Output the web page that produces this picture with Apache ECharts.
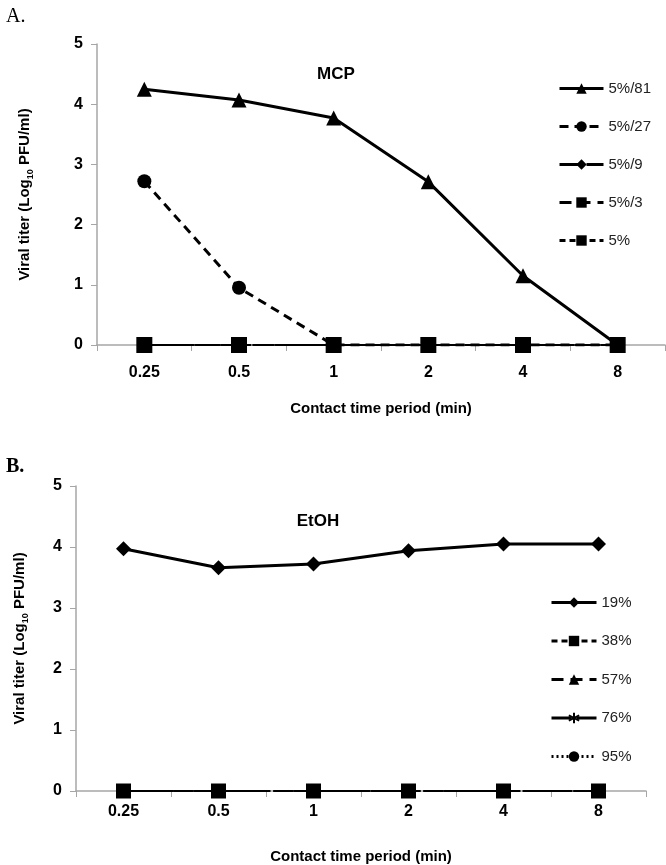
<!DOCTYPE html>
<html><head><meta charset="utf-8">
<script src="https://cdn.jsdelivr.net/npm/echarts@6/dist/echarts.min.js"></script>
<style>html,body{margin:0;padding:0;background:#fff}#c{width:666px;height:865px}</style>
</head><body><div id="c"></div>
<script>
const categories = ['0.25','0.5','1','2','4','8'];
// Panel A: MCP
const mcp_5_81 = [4.25, 4.07, 3.77, 2.71, 1.15, 0];
const mcp_5_27 = [2.72, 0.95, 0, 0, 0, 0];
const mcp_5_9  = [0, 0, 0, 0, 0, 0];
const mcp_5_3  = [0, 0, 0, 0, 0, 0];
const mcp_5    = [0, 0, 0, 0, 0, 0];
// Panel B: EtOH
const etoh_19 = [3.97, 3.66, 3.72, 3.94, 4.05, 4.05];
const etoh_38 = [0, 0, 0, 0, 0, 0];
const etoh_57 = [0, 0, 0, 0, 0, 0];
const etoh_76 = [0, 0, 0, 0, 0, 0];
const etoh_95 = [0, 0, 0, 0, 0, 0];
const yTicks = [0, 1, 2, 3, 4, 5];

const ASTER = 'path://M0,-10L0,10M-8.66,-5L8.66,5M-8.66,5L8.66,-5';
const axisGrey = '#a6a6a6';
const tickFont = {color:'#000', fontWeight:'bold', fontSize:16, fontFamily:'Liberation Sans, Arial'};

function xAxis(gi, margin, gap){
  return {type:'category', gridIndex:gi, data:categories, boundaryGap:true,
    axisLine:{lineStyle:{color:axisGrey, width:1.5}},
    axisTick:{show:true, inside:false, length:6, lineStyle:{color:axisGrey}},
    axisLabel:Object.assign({margin:margin}, tickFont),
    name:'Contact time period (min)', nameLocation:'middle', nameGap:gap,
    nameTextStyle:{color:'#000', fontWeight:'bold', fontSize:15, fontFamily:'Liberation Sans, Arial'},
    splitLine:{show:false}};
}
function yAxis(gi, gap){
  return {type:'value', gridIndex:gi, min:yTicks[0], max:yTicks[yTicks.length-1], interval:1,
    axisLine:{show:true, lineStyle:{color:axisGrey, width:1.5}},
    axisTick:{show:true, inside:false, length:6, lineStyle:{color:axisGrey}},
    axisLabel:Object.assign({margin:14}, tickFont),
    splitLine:{show:false},
    name:'{a|Viral titer (Log}{s|10}{a| PFU/ml)}', nameLocation:'middle', nameGap:gap, nameRotate:90,
    nameTextStyle:{rich:{
      a:{color:'#000', fontWeight:'bold', fontSize:15, fontFamily:'Liberation Sans, Arial', lineHeight:20},
      s:{color:'#000', fontWeight:'bold', fontSize:9, fontFamily:'Liberation Sans, Arial', lineHeight:20, verticalAlign:'bottom', padding:[8,0,0,0]}
    }}};
}
function line(name, data, gi, symbol, size, type, width, z){
  return {name:name, type:'line', xAxisIndex:gi, yAxisIndex:gi, data:data,
    symbol:symbol, symbolSize:size, showSymbol:true, z:z||2,
    itemStyle:{color:'#000'},
    lineStyle:{color:'#000', width:width, type:type}, animation:false};
}
const legendText = {fontFamily:'Liberation Sans, Arial', fontSize:15, color:'#222'};

const chart = echarts.init(document.getElementById('c'), null, {renderer:'canvas'});
chart.setOption({
  animation:false,
  backgroundColor:'#fff',
  title:[
    {text:'A.', left:1, top:2, textStyle:{fontFamily:'Liberation Serif, Times New Roman', fontSize:20, fontWeight:'normal', color:'#000'}},
    {text:'B.', left:1, top:452, textStyle:{fontFamily:'Liberation Serif, Times New Roman', fontSize:20, fontWeight:'bold', color:'#000'}},
    {text:'MCP', left:331, top:61, textAlign:'center', textStyle:{fontFamily:'Liberation Sans, Arial', fontSize:17, fontWeight:'bold', color:'#000'}},
    {text:'EtOH', left:313, top:508, textAlign:'center', textStyle:{fontFamily:'Liberation Sans, Arial', fontSize:17, fontWeight:'bold', color:'#000'}}
  ],
  legend:[
    {orient:'vertical', left:553, top:76, itemWidth:44, itemHeight:13, itemGap:23,
     lineStyle:{width:3},
     data:['5%/81','5%/27','5%/9','5%/3','5%'], textStyle:legendText},
    {orient:'vertical', left:545, top:590, itemWidth:45, itemHeight:13, itemGap:23.5,
     lineStyle:{width:3},
     data:['19%','38%','57%','76%','95%'], textStyle:legendText}
  ],
  grid:[
    {left:97, right:1, top:44, bottom:520},
    {left:76, right:20, top:486, bottom:74}
  ],
  xAxis:[xAxis(0, 20, 56), xAxis(1, 13, 58)],
  yAxis:[yAxis(0, 62), yAxis(1, 46)],
  series:[
    line('5%/81', mcp_5_81, 0, 'triangle', 15, 'solid', 3, 5),
    line('5%/27', mcp_5_27, 0, 'circle', 14, [9,6], 3, 4),
    line('5%/9', mcp_5_9, 0, 'diamond', 13, [22,5], 2, 3),
    line('5%/3', mcp_5_3, 0, 'rect', 14, [12,7], 2, 3),
    line('5%', mcp_5, 0, 'rect', 16, [6,4], 2, 3),
    line('19%', etoh_19, 1, 'diamond', 15, 'solid', 3, 5),
    line('38%', etoh_38, 1, 'rect', 15, [6,4], 2, 4),
    line('57%', etoh_57, 1, 'triangle', 12, [12,7], 2, 3),
    Object.assign(line('76%', etoh_76, 1, ASTER, 14, [20,5], 2, 3), {itemStyle:{color:'#000', borderColor:'#000', borderWidth:1}}),
    line('95%', etoh_95, 1, 'circle', 13, [2,3], 2, 3)
  ]
});
</script></body></html>
